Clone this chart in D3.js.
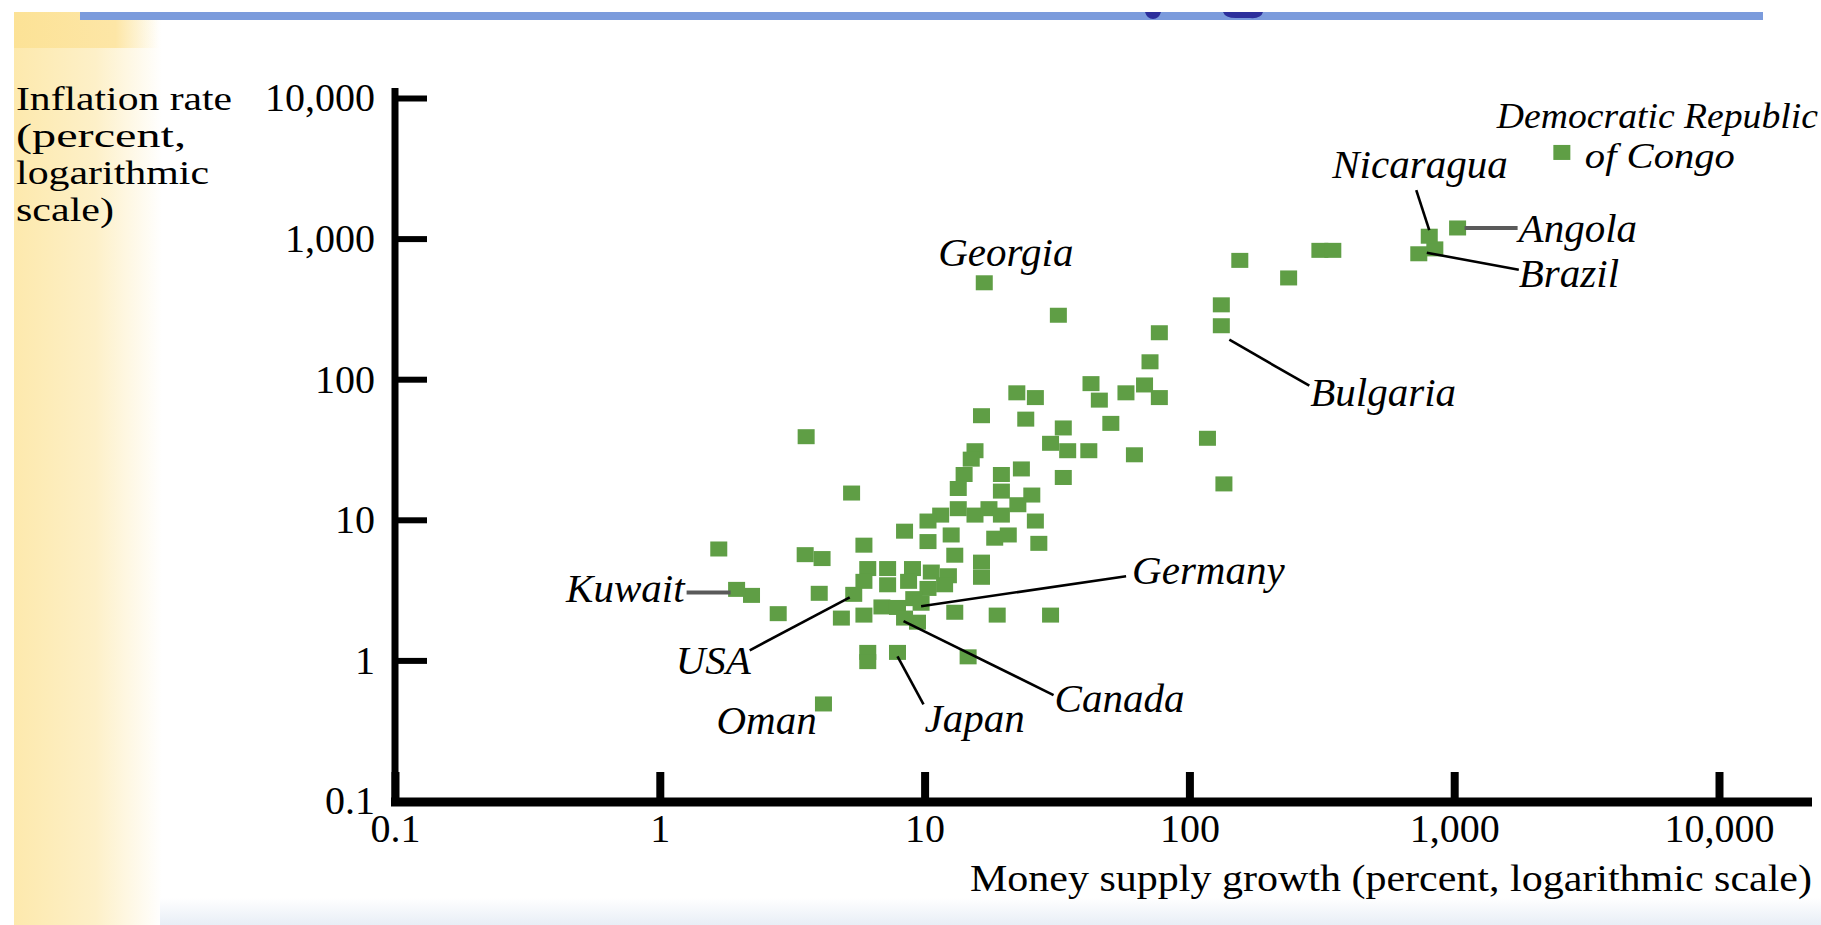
<!DOCTYPE html>
<html>
<head>
<meta charset="utf-8">
<script src="https://cdn.jsdelivr.net/npm/d3@7"></script>
<style>
  html, body { margin: 0; padding: 0; background: #ffffff; overflow: hidden; }
  svg { display: block; }
  text { font-family: "Liberation Serif", "Times New Roman", serif; fill: #000; }
</style>
</head>
<body>
<svg id="chart" width="1821" height="925"></svg>
<script>
// ---- Data: money supply growth vs. inflation, by country (percent) ----
const countries = [
  "Democratic Republic of Congo", "Nicaragua", "Angola", "Brazil", "Bulgaria", "Georgia",
  "Germany", "Kuwait", "USA", "Canada", "Japan", "Oman"
];
const countryMoneyGrowth = [2550, 805, 1030, 735, 132, 16.8, 9.7, 1.95, 5.4, 8.4, 7.9, 4.15];
const countryInflation   = [4100, 1040, 1190, 780, 240, 485, 2.55, 3.2, 2.95, 2.0, 1.14, 0.49];

// Unlabelled countries
const otherMoneyGrowth = [
  845, 311, 348, 155, 237, 132, 32, 77, 71, 22.3, 26.2, 42.5, 45.7, 57.6, 67.7, 77,
  16.4, 24.1, 33.4, 50.5, 117, 135, 62, 29.9, 34.7, 41.7, 33.4, 3.57, 15.5, 15, 14.1,
  13.4, 19.5, 19.5, 23.2, 25.4, 5.3, 11.5, 13.4, 15.5, 17.5, 19.5, 22.5, 26.2, 10.3,
  8.4, 5.9, 10.3, 12.6, 13, 16.4, 16.4, 18.4, 20.7, 27, 6.1, 7.25, 9.0, 10.6, 12.3,
  5.9, 7.25, 8.7, 10.3, 11.9, 4.0, 9.1, 13, 18.8, 29.9, 4.85, 5.9, 6.9, 7.9, 9.4,
  6.1, 6.1, 14.6, 1.67, 3.54, 4.1, 2.22, 2.8
];
const otherInflation = [
  845, 825, 825, 700, 525, 338, 285, 214, 133, 80, 74, 93, 71, 80, 91, 74,
  55, 52, 45, 48.5, 38, 18, 29, 35, 31, 31, 20, 39, 31, 27, 21,
  16.7, 21, 16, 23, 15, 15.5, 10.8, 12, 10.8, 12, 10.8, 12.8, 9.8, 9.8,
  8.3, 6.6, 7.0, 7.8, 5.6, 5.0, 3.9, 7.4, 7.8, 6.8, 4.5, 4.5, 4.5, 4.25, 4.0,
  3.65, 3.45, 3.65, 3.25, 3.45, 3.0, 2.75, 2.2, 2.1, 2.1, 2.0, 2.1, 2.4, 2.38, 1.87,
  1.14, 0.98, 1.06, 6.2, 5.65, 5.3, 2.9, 2.15
];

const xTickValues = [0.1, 1, 10, 100, 1000, 10000];
const xTickLabels = ["0.1", "1", "10", "100", "1,000", "10,000"];
const yTickValues = [0.1, 1, 10, 100, 1000, 10000];
const yTickLabels = ["0.1", "1", "10", "100", "1,000", "10,000"];
const yTitleLines = ["Inflation rate", "(percent,", "logarithmic", "scale)"];
const xTitle = "Money supply growth (percent, logarithmic scale)";

// ---- Label placement (pixel offsets from each country's marker) ----
const labelLayout = {
  "Democratic Republic of Congo": {
    lines: [
      { text: "Democratic Republic", dx: -65, dy: -24, size: 35, fit: 321 },
      { text: "of Congo", dx: 23, dy: 16, size: 35, fit: 150 }
    ]
  },
  "Nicaragua": { lines: [{ text: "Nicaragua", dx: -97, dy: -58 }], leader: { from: [-13, -46], to: [0, -6] } },
  "Angola":    { lines: [{ text: "Angola", dx: 61, dy: 14 }], leader: { from: [7, 0], to: [60, 0], gray: true } },
  "Brazil":    { lines: [{ text: "Brazil", dx: 100, dy: 33 }], leader: { from: [8, -1], to: [100, 16] } },
  "Bulgaria":  { lines: [{ text: "Bulgaria", dx: 89, dy: 80 }], leader: { from: [8, 14], to: [88, 60] } },
  "Georgia":   { lines: [{ text: "Georgia", dx: -46, dy: -17 }] },
  "Germany":   { lines: [{ text: "Germany", dx: 211, dy: -19 }], leader: { from: [0, 3], to: [205, -27] } },
  "Kuwait":    { lines: [{ text: "Kuwait", dx: -52, dy: 13, anchor: "end" }], leader: { from: [-50, 3], to: [-6, 3], gray: true } },
  "USA":       { lines: [{ text: "USA", dx: -178, dy: 80 }], leader: { from: [-104, 56], to: [-4, 3] } },
  "Canada":    { lines: [{ text: "Canada", dx: 150, dy: 94 }], leader: { from: [-1, 3], to: [149, 77] } },
  "Japan":     { lines: [{ text: "Japan", dx: 27, dy: 80 }], leader: { from: [0, 4], to: [26, 52] } },
  "Oman":      { lines: [{ text: "Oman", dx: -107, dy: 30 }] }
};

const W = 1821, H = 925;
const svg = d3.select("#chart");
const defs = svg.append("defs");

// ---- Slide backdrop ----
svg.append("rect").attr("width", W).attr("height", H).attr("fill", "#ffffff");

const stripGrad = defs.append("linearGradient").attr("id", "strip").attr("x1", 0).attr("x2", 1).attr("y1", 0).attr("y2", 0);
stripGrad.append("stop").attr("offset", 0).attr("stop-color", "#fde9ad");
stripGrad.append("stop").attr("offset", 0.55).attr("stop-color", "#fdf0c8");
stripGrad.append("stop").attr("offset", 1).attr("stop-color", "#ffffff");
svg.append("rect").attr("x", 14).attr("y", 12).attr("width", 148).attr("height", H - 12).attr("fill", "url(#strip)");

const topGrad = defs.append("linearGradient").attr("id", "topblock").attr("x1", 0).attr("x2", 1).attr("y1", 0).attr("y2", 0);
topGrad.append("stop").attr("offset", 0).attr("stop-color", "#fce296");
topGrad.append("stop").attr("offset", 0.7).attr("stop-color", "#fde6a6");
topGrad.append("stop").attr("offset", 1).attr("stop-color", "#fdf0c8").attr("stop-opacity", 0);
svg.append("rect").attr("x", 14).attr("y", 12).attr("width", 145).attr("height", 36).attr("fill", "url(#topblock)");

const botGrad = defs.append("linearGradient").attr("id", "bottomband").attr("x1", 0).attr("x2", 0).attr("y1", 0).attr("y2", 1);
botGrad.append("stop").attr("offset", 0).attr("stop-color", "#ffffff");
botGrad.append("stop").attr("offset", 1).attr("stop-color", "#e8eef6");
svg.append("rect").attr("x", 160).attr("y", 898).attr("width", W - 160).attr("height", 27).attr("fill", "url(#bottomband)");

// title rule across the top, with the feet of the slide heading peeking through
svg.append("rect").attr("x", 80).attr("y", 12).attr("width", 1683).attr("height", 8).attr("fill", "#7b9bdc");
svg.append("path").attr("d", "M1145,12 L1161,12 Q1159,19 1153,19 Q1147,19 1145,12 Z").attr("fill", "#2c2f9c");
svg.append("path").attr("d", "M1223,12 L1263,12 Q1261,19 1250,18 L1236,18 Q1225,18 1223,12 Z").attr("fill", "#2c2f9c");

// ---- Scales ----
const x = d3.scaleLog().domain([0.1, 10000]).range([395, 1719]);
const y = d3.scaleLog().domain([0.1, 10000]).range([801, 98]);

// ---- Points ----
const squareW = 17, squareH = 15;
const others = otherMoneyGrowth.map((m, i) => ({ m, inf: otherInflation[i] }));
const named = countries.map((c, i) => ({ name: c, m: countryMoneyGrowth[i], inf: countryInflation[i] }));

const pts = svg.append("g");
pts.selectAll("rect.other").data(others).join("rect")
  .attr("class", "other")
  .attr("x", d => x(d.m) - squareW / 2).attr("y", d => y(d.inf) - squareH / 2)
  .attr("width", squareW).attr("height", squareH)
  .attr("fill", "#5f9e45");
pts.selectAll("rect.named").data(named).join("rect")
  .attr("class", "named")
  .attr("x", d => x(d.m) - squareW / 2).attr("y", d => y(d.inf) - squareH / 2)
  .attr("width", squareW).attr("height", squareH)
  .attr("fill", "#5f9e45");

// ---- Axes ----
const xAxis = d3.axisBottom(x).tickValues(xTickValues).tickFormat((d, i) => xTickLabels[i])
  .tickSizeInner(-30).tickSizeOuter(0).tickPadding(12);
const gx = svg.append("g").attr("transform", "translate(0,802)").call(xAxis)
  .attr("font-family", null).attr("font-size", null);
gx.select(".domain").attr("d", "M391,0H1812").attr("stroke", "#000").attr("stroke-width", 9);
gx.selectAll(".tick line").attr("stroke", "#000").attr("stroke-width", 8);
gx.selectAll(".tick text").attr("font-size", 40).attr("fill", "#000");

const yAxis = d3.axisLeft(y).tickValues(yTickValues).tickFormat((d, i) => yTickLabels[i])
  .tickSizeInner(-32).tickSizeOuter(0).tickPadding(20);
const gy = svg.append("g").attr("transform", "translate(395,0)").call(yAxis)
  .attr("font-family", null).attr("font-size", null);
gy.select(".domain").attr("d", "M0,88V806").attr("stroke", "#000").attr("stroke-width", 7);
gy.selectAll(".tick line").attr("stroke", "#000").attr("stroke-width", 6);
gy.selectAll(".tick text").attr("font-size", 40).attr("fill", "#000");

// ---- Axis titles ----
const yTitleWidths = [216, 170, 193, 98];
svg.append("g").selectAll("text").data(yTitleLines).join("text")
  .attr("x", 16).attr("y", (d, i) => 110 + i * 37)
  .attr("font-size", 33)
  .attr("textLength", (d, i) => yTitleWidths[i])
  .attr("lengthAdjust", "spacingAndGlyphs")
  .text(d => d);

svg.append("text").attr("x", 970).attr("y", 891)
  .attr("font-size", 38)
  .attr("textLength", 842).attr("lengthAdjust", "spacingAndGlyphs")
  .text(xTitle);

// ---- Country annotations ----
const ann = svg.append("g");
named.forEach(d => {
  const lay = labelLayout[d.name];
  if (!lay) return;
  const px = x(d.m), py = y(d.inf);
  if (lay.leader) {
    ann.append("line")
      .attr("x1", px + lay.leader.from[0]).attr("y1", py + lay.leader.from[1])
      .attr("x2", px + lay.leader.to[0]).attr("y2", py + lay.leader.to[1])
      .attr("stroke", lay.leader.gray ? "#5a5a5a" : "#000")
      .attr("stroke-width", lay.leader.gray ? 4 : 2.6);
  }
  lay.lines.forEach(l => {
    const t = ann.append("text")
      .attr("x", px + l.dx).attr("y", py + l.dy)
      .attr("text-anchor", l.anchor || "start")
      .attr("font-style", "italic")
      .attr("font-size", l.size || 41)
      .text(l.text);
    if (l.fit) t.attr("textLength", l.fit).attr("lengthAdjust", "spacingAndGlyphs");
  });
});
</script>
</body>
</html>
